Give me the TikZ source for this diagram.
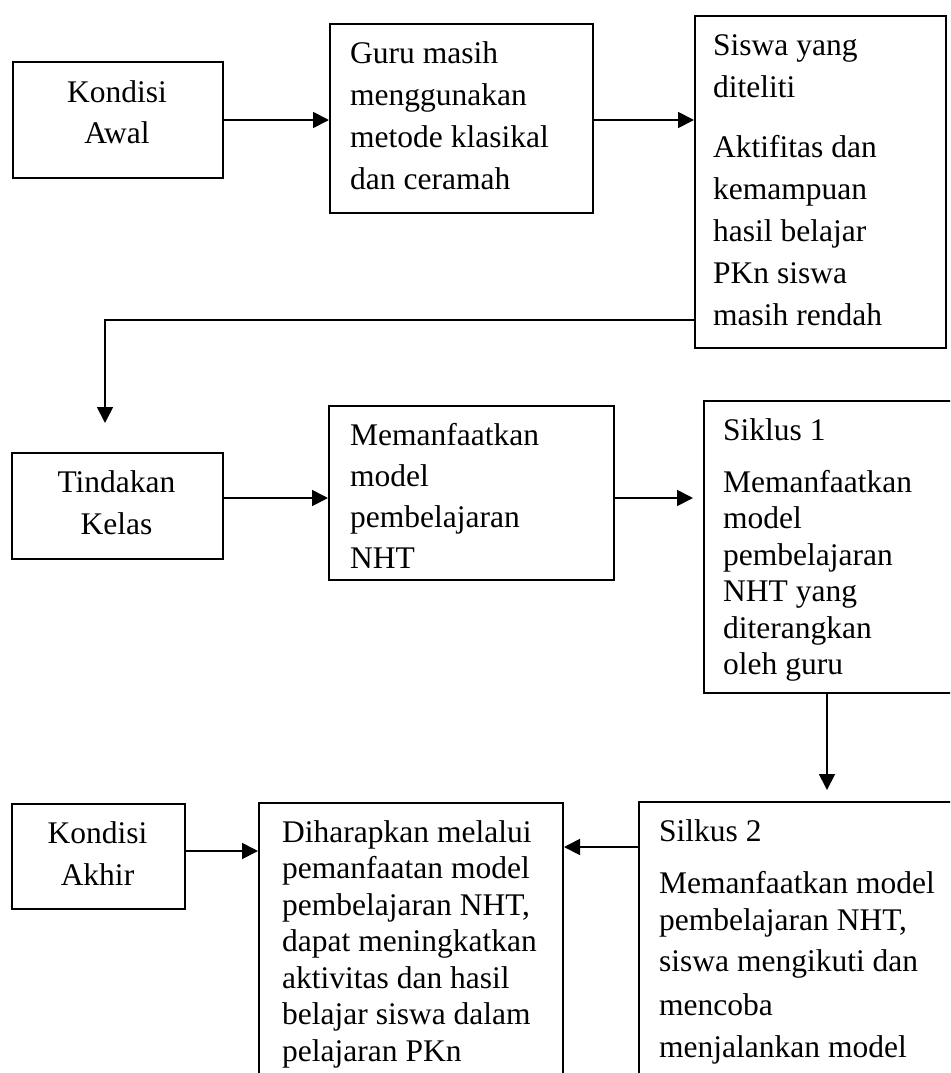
\documentclass[tikz,border=0pt]{standalone}
\usepackage{fontspec}
\setmainfont{Liberation Serif}
\usetikzlibrary{arrows.meta}
\begin{document}
\begin{tikzpicture}[x=1pt,y=-1pt,
  box/.style={draw, line width=2pt, inner sep=0pt, anchor=north west},
  ltxt/.style={inner sep=0pt, align=left, anchor=base west},
  ctxt/.style={inner sep=0pt, align=center, anchor=base},
  arr/.style={line width=1.8pt, -{Triangle[length=16pt,width=16pt]}},
]
\useasboundingbox (0,0) rectangle (950,1073);
\fill[white] (0,0) rectangle (950,1073);
\clip (0,0) rectangle (950,1073);

% boxes
\node[box, minimum width=210pt, minimum height=116pt] (b1) at (12,61) {};
\node[box, minimum width=263pt, minimum height=189pt] (b2) at (329,23) {};
\node[box, minimum width=251pt, minimum height=332pt] (b3) at (694,15) {};
\node[box, minimum width=211pt, minimum height=106pt] (b4) at (11,452) {};
\node[box, minimum width=285pt, minimum height=174pt] (b5) at (328,405) {};
\node[box, minimum width=260pt, minimum height=292pt] (b6) at (703,400) {};
\node[box, minimum width=173pt, minimum height=105pt] (b7) at (11,803) {};
\node[box, minimum width=304pt, minimum height=300pt] (b8) at (258,802) {};
\node[box, minimum width=330pt, minimum height=300pt] (b9) at (638,801) {};

% texts (anchored at the baseline of their last line)
\node[ctxt, font=\fontsize{31.5}{41}\selectfont] (t1) at (117,143) {Kondisi\\Awal};
\node[ltxt, font=\fontsize{31.5}{41.7}\selectfont] (t2) at (350,189) {Guru masih\\menggunakan\\metode klasikal\\dan ceramah};
\node[ltxt, font=\fontsize{31.5}{42}\selectfont] (t3) at (713,325) {Siswa yang\\diteliti\\[18pt]Aktifitas dan\\kemampuan\\hasil belajar\\PKn siswa\\masih rendah};
\node[ctxt, font=\fontsize{31.5}{42}\selectfont] (t4) at (116.5,534) {Tindakan\\Kelas};
\node[ltxt, font=\fontsize{31.5}{41}\selectfont] (t5) at (350,568) {Memanfaatkan\\model\\pembelajaran\\NHT};
\node[ltxt, font=\fontsize{31.5}{36.5}\selectfont] (t6) at (723,674.5) {Siklus 1\\[15.5pt]Memanfaatkan\\model\\pembelajaran\\NHT yang\\diterangkan\\oleh guru};
\node[ctxt, font=\fontsize{31.5}{42}\selectfont] (t7) at (97.5,885) {Kondisi\\Akhir};
\node[ltxt, font=\fontsize{31.5}{36.5}\selectfont] (t8) at (282,1061) {Diharapkan melalui\\pemanfaatan model\\pembelajaran NHT,\\dapat meningkatkan\\aktivitas dan hasil\\belajar siswa dalam\\pelajaran PKn};
\node[ltxt, font=\fontsize{31.5}{37}\selectfont] (t9) at (659,1057) {Silkus 2\\[15pt]Memanfaatkan model\\pembelajaran NHT,\\[4pt]siswa mengikuti dan\\[7pt]mencoba\\[5pt]menjalankan model};

% connectors
\coordinate (k1) at (105,320);
\coordinate (c1) at (105,423);
\coordinate (r2) at (0,498);
\coordinate (c2) at (693,498);
\coordinate (c3) at (827,790);
\coordinate (r3) at (0,851);
\coordinate (r4) at (0,847);

\draw[arr] (b1.east) -- (b1.east -| b2.west);
\draw[arr] (b2.east |- b1.east) -- (b3.west |- b1.east);
\draw[arr] (b3.west |- k1) -- (k1) -- (c1);
\draw[arr] (b4.east |- r2) -- (b5.west |- r2);
\draw[arr] (b5.east |- r2) -- (c2);
\draw[arr] (b6.south -| c3) -- (c3);
\draw[arr] (b7.east |- r3) -- (b8.west |- r3);
\draw[arr] (b9.west |- r4) -- (b8.east |- r4);
\end{tikzpicture}
\end{document}
